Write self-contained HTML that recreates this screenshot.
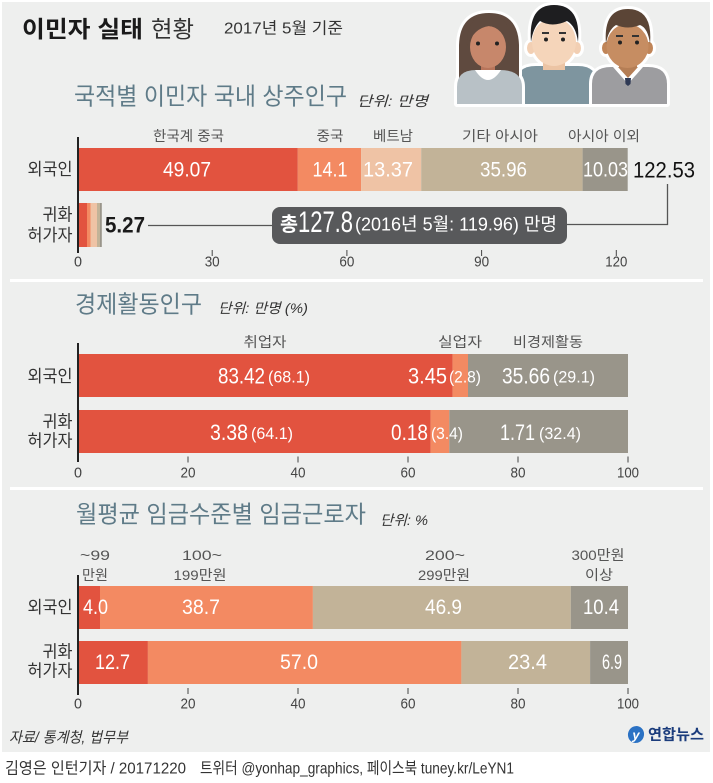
<!DOCTYPE html>
<html><head><meta charset="utf-8">
<style>
html,body{margin:0;padding:0;background:#fff;}
svg{display:block;}
text{font-family:"Liberation Sans","Noto Sans CJK KR",sans-serif;dominant-baseline:central;}
.kr{font-family:"Liberation Sans","Noto Sans CJK KR",sans-serif;}
.cat{font-size:14px;fill:#555;text-anchor:middle;}
.row{font-size:17px;fill:#333;text-anchor:end;}
.val{font-size:21px;fill:#fff;text-anchor:middle;}
.valb{font-size:22px;fill:#fff;}
.par{font-size:17px;fill:#fff;}
.tick{font-size:15px;fill:#444;text-anchor:middle;}
.sub{font-size:24px;fill:#5f7b88;}
.unit{font-size:14px;fill:#333;font-style:italic;}
</style></head>
<body>
<svg width="713" height="783" viewBox="0 0 713 783" xmlns="http://www.w3.org/2000/svg">
<defs>
<g id="cm">
  <path d="M516,104 L516,84 Q516,66 536,66 L578,66 Q597,66 597,84 L597,104 Z" fill="#7e959f"/>
  <rect x="543" y="56" width="22" height="14" fill="#ecc4a4"/>
  <ellipse cx="531" cy="48" rx="4" ry="6" fill="#f2cfb3"/>
  <ellipse cx="577" cy="48" rx="4" ry="6" fill="#f2cfb3"/>
  <ellipse cx="554" cy="42" rx="22" ry="24" fill="#f5d5ba"/>
  <path d="M531,42 Q528,5 554,5 Q581,5 578,42 Q576,26 567,21 Q552,28 540,21 Q533,28 531,42 Z" fill="#1e1e20"/>
  <line x1="542" y1="33" x2="549" y2="33" stroke="#333" stroke-width="2"/>
  <line x1="559" y1="33" x2="566" y2="33" stroke="#333" stroke-width="2"/>
  <circle cx="546" cy="39.5" r="2" fill="#222"/>
  <circle cx="563" cy="39.5" r="2" fill="#222"/>
</g>
<g id="wm">
  <path d="M459,84 L459,45 Q460,13 489,13 Q518,13 519,45 L519,84 Z" fill="#5f4a3f"/>
  <path d="M457,104 L457,87 Q457,70 476,70 L500,70 Q522,70 522,87 L522,104 Z" fill="#b8c1c6"/>
  <rect x="481" y="60" width="14" height="12" fill="#b8755b"/>
  <path d="M475,70 Q488,90 501,70 Z" fill="#fff"/>
  <ellipse cx="488" cy="47" rx="18" ry="21" fill="#c7876b"/>
  <path d="M467,46 Q466,15 489,15 Q512,15 510,46 Q504,28 489,26 Q474,28 467,46 Z" fill="#5f4a3f"/>
  <circle cx="478" cy="43.5" r="2" fill="#222"/>
  <circle cx="497" cy="43.5" r="2" fill="#222"/>
</g>
<g id="rm">
  <path d="M592,104 L592,84 Q592,67 611,67 L648,67 Q667,67 667,84 L667,104 Z" fill="#9d9da0"/>
  <rect x="619" y="57" width="18" height="12" fill="#b57e55"/>
  <path d="M613,67 L628,84 L643,67 Z" fill="#fff"/>
  <path d="M618,67 L628,78 L638,67 Z" fill="#b57e55"/>
  <path d="M625,78 L631,78 L630.5,84 L628,86 L625.5,84 Z" fill="#2f3a55"/>
  <ellipse cx="606" cy="48" rx="4" ry="6" fill="#c08558"/>
  <ellipse cx="649" cy="48" rx="4" ry="6" fill="#c08558"/>
  <ellipse cx="627.5" cy="46" rx="21" ry="22" fill="#c68d62"/>
  <path d="M606,44 Q603,9 628,9 Q653,9 650,44 Q648,28 640,25 Q628,30 616,25 Q608,30 606,44 Z" fill="#5b4536"/>
  <line x1="616" y1="36" x2="623" y2="36" stroke="#333" stroke-width="2"/>
  <line x1="632" y1="36" x2="639" y2="36" stroke="#333" stroke-width="2"/>
  <circle cx="620" cy="42.5" r="2" fill="#222"/>
  <circle cx="637" cy="42.5" r="2" fill="#222"/>
</g>
</defs>

<!-- panel -->
<rect x="2" y="2" width="708" height="750" fill="#eeefee"/>
<rect x="10" y="279" width="693" height="3" fill="#fff"/>
<rect x="10" y="487" width="693" height="3" fill="#fff"/>

<!-- header -->
<text x="22" y="29" font-size="23" font-weight="bold" fill="#1a1a1a" textLength="121" lengthAdjust="spacingAndGlyphs">이민자 실태</text>
<text x="151" y="29" font-size="23" fill="#333" textLength="43" lengthAdjust="spacingAndGlyphs">현황</text>
<text x="224" y="29" font-size="16" fill="#333" textLength="119" lengthAdjust="spacingAndGlyphs">2017년 5월 기준</text>

<!-- people -->
<use href="#cm" stroke="#fff" stroke-width="6" stroke-linejoin="round"/>
<use href="#cm"/>
<use href="#wm" stroke="#fff" stroke-width="6" stroke-linejoin="round"/>
<use href="#wm"/>
<use href="#rm" stroke="#fff" stroke-width="6" stroke-linejoin="round"/>
<use href="#rm"/>

<!-- ===== Section 1 ===== -->
<text class="sub" x="74" y="97" textLength="273" lengthAdjust="spacingAndGlyphs">국적별 이민자 국내 상주인구</text>
<text class="unit" x="357" y="101" textLength="71" lengthAdjust="spacingAndGlyphs">단위: 만명</text>

<text class="cat" x="188.5" y="136" textLength="71" lengthAdjust="spacingAndGlyphs">한국계 중국</text>
<text class="cat" x="330" y="136" textLength="27" lengthAdjust="spacingAndGlyphs">중국</text>
<text class="cat" x="393" y="136" textLength="40" lengthAdjust="spacingAndGlyphs">베트남</text>
<text class="cat" x="500" y="136" textLength="76" lengthAdjust="spacingAndGlyphs">기타 아시아</text>
<text class="cat" x="604" y="136" textLength="72" lengthAdjust="spacingAndGlyphs">아시아 이외</text>

<!-- row 1 -->
<rect x="78" y="148" width="219.8" height="43" fill="#e2533f"/>
<rect x="297.8" y="148" width="63.3" height="43" fill="#f38a62"/>
<rect x="361.1" y="148" width="60.1" height="43" fill="#efc3a5"/>
<rect x="421.2" y="148" width="161.4" height="43" fill="#c2b398"/>
<rect x="582.6" y="148" width="45.1" height="43" fill="#99958a"/>
<text class="val" x="187" y="170" textLength="48" lengthAdjust="spacingAndGlyphs">49.07</text>
<text class="val" x="330" y="170" textLength="35" lengthAdjust="spacingAndGlyphs">14.1</text>
<text class="val" x="388" y="170" textLength="50" lengthAdjust="spacingAndGlyphs">13.37</text>
<text class="val" x="503.5" y="170" textLength="47" lengthAdjust="spacingAndGlyphs">35.96</text>
<text class="val" x="605.5" y="170" textLength="45" lengthAdjust="spacingAndGlyphs">10.03</text>
<text x="633" y="170" font-size="22" fill="#111" textLength="62" lengthAdjust="spacingAndGlyphs">122.53</text>

<!-- row 2 -->
<rect x="78" y="203" width="9" height="44" fill="#e2533f"/>
<rect x="87" y="203" width="3.5" height="44" fill="#f38a62"/>
<rect x="90.5" y="203" width="6.5" height="44" fill="#efc3a5"/>
<rect x="97" y="203" width="3" height="44" fill="#c2b398"/>
<rect x="100" y="203" width="1.8" height="44" fill="#99958a"/>
<text x="105" y="225" font-size="22" font-weight="bold" fill="#1a1a1a" textLength="40" lengthAdjust="spacingAndGlyphs">5.27</text>

<polyline points="148,225.5 272,225.5" fill="none" stroke="#555" stroke-width="1.3"/>
<polyline points="567,224.5 667.5,224.5 667.5,184" fill="none" stroke="#555" stroke-width="1.3"/>
<rect x="272" y="207" width="295" height="37" rx="8" fill="#58595b"/>
<text x="280" y="225" font-size="20" font-weight="bold" fill="#fff" textLength="18" lengthAdjust="spacingAndGlyphs">총</text>
<text x="298" y="222.5" font-size="30" fill="#fff" textLength="55" lengthAdjust="spacingAndGlyphs">127.8</text>
<text x="355" y="224.5" font-size="18" fill="#fff" textLength="202" lengthAdjust="spacingAndGlyphs">(2016년 5월: 119.96) 만명</text>

<text class="row" x="72.5" y="169.5" textLength="45" lengthAdjust="spacingAndGlyphs">외국인</text>
<text class="row" x="72.5" y="215" textLength="30" lengthAdjust="spacingAndGlyphs">귀화</text>
<text class="row" x="72.5" y="235.5" textLength="45" lengthAdjust="spacingAndGlyphs">허가자</text>

<line x1="78" y1="137" x2="78" y2="253" stroke="#222" stroke-width="2"/>
<g stroke="#444" stroke-width="1">
<line x1="212.2" y1="250" x2="212.2" y2="256"/>
<line x1="346.9" y1="250" x2="346.9" y2="256"/>
<line x1="481.6" y1="250" x2="481.6" y2="256"/>
<line x1="616.3" y1="250" x2="616.3" y2="256"/>
</g>
<text class="tick" x="78" y="262" textLength="8" lengthAdjust="spacingAndGlyphs">0</text>
<text class="tick" x="212.2" y="262" textLength="15" lengthAdjust="spacingAndGlyphs">30</text>
<text class="tick" x="346.9" y="262" textLength="15" lengthAdjust="spacingAndGlyphs">60</text>
<text class="tick" x="481.6" y="262" textLength="15" lengthAdjust="spacingAndGlyphs">90</text>
<text class="tick" x="616.3" y="262" textLength="22" lengthAdjust="spacingAndGlyphs">120</text>

<!-- ===== Section 2 ===== -->
<text class="sub" x="75" y="305" textLength="127" lengthAdjust="spacingAndGlyphs">경제활동인구</text>
<text class="unit" x="218" y="308" textLength="90" lengthAdjust="spacingAndGlyphs">단위: 만명 (%)</text>

<text class="cat" x="265" y="342" textLength="43" lengthAdjust="spacingAndGlyphs">취업자</text>
<text class="cat" x="460" y="342" textLength="44" lengthAdjust="spacingAndGlyphs">실업자</text>
<text class="cat" x="548" y="342" textLength="70" lengthAdjust="spacingAndGlyphs">비경제활동</text>

<rect x="78" y="354" width="374.6" height="43" fill="#e2533f"/>
<rect x="452.6" y="354" width="15.4" height="43" fill="#f38a62"/>
<rect x="468" y="354" width="160" height="43" fill="#99958a"/>

<rect x="78" y="410" width="352.6" height="43" fill="#e2533f"/>
<rect x="430.6" y="410" width="18.7" height="43" fill="#f38a62"/>
<rect x="449.3" y="410" width="178.7" height="43" fill="#99958a"/>

<text class="valb" x="218" y="376" textLength="47" lengthAdjust="spacingAndGlyphs">83.42</text>
<text class="par" x="268" y="377" textLength="42" lengthAdjust="spacingAndGlyphs">(68.1)</text>
<text class="valb" x="408" y="376" textLength="39" lengthAdjust="spacingAndGlyphs">3.45</text>
<text class="par" x="449" y="377" textLength="32" lengthAdjust="spacingAndGlyphs">(2.8)</text>
<text class="valb" x="502" y="376" textLength="48" lengthAdjust="spacingAndGlyphs">35.66</text>
<text class="par" x="553" y="377" textLength="42" lengthAdjust="spacingAndGlyphs">(29.1)</text>

<text class="valb" x="210" y="432.5" textLength="38" lengthAdjust="spacingAndGlyphs">3.38</text>
<text class="par" x="251" y="433.5" textLength="42" lengthAdjust="spacingAndGlyphs">(64.1)</text>
<text class="valb" x="391" y="432.5" textLength="37" lengthAdjust="spacingAndGlyphs">0.18</text>
<text class="par" x="431" y="433.5" textLength="32" lengthAdjust="spacingAndGlyphs">(3.4)</text>
<text class="valb" x="500" y="432.5" textLength="35" lengthAdjust="spacingAndGlyphs">1.71</text>
<text class="par" x="539" y="433.5" textLength="42" lengthAdjust="spacingAndGlyphs">(32.4)</text>

<text class="row" x="72.5" y="376.5" textLength="45" lengthAdjust="spacingAndGlyphs">외국인</text>
<text class="row" x="72.5" y="422" textLength="30" lengthAdjust="spacingAndGlyphs">귀화</text>
<text class="row" x="72.5" y="441" textLength="45" lengthAdjust="spacingAndGlyphs">허가자</text>

<line x1="78" y1="343" x2="78" y2="462" stroke="#222" stroke-width="2"/>
<g stroke="#444" stroke-width="1">
<line x1="188" y1="456.5" x2="188" y2="462.5"/>
<line x1="298" y1="456.5" x2="298" y2="462.5"/>
<line x1="408" y1="456.5" x2="408" y2="462.5"/>
<line x1="518" y1="456.5" x2="518" y2="462.5"/>
<line x1="628" y1="456.5" x2="628" y2="462.5"/>
</g>
<text class="tick" x="78" y="473" textLength="8" lengthAdjust="spacingAndGlyphs">0</text>
<text class="tick" x="188" y="473" textLength="15" lengthAdjust="spacingAndGlyphs">20</text>
<text class="tick" x="298" y="473" textLength="15" lengthAdjust="spacingAndGlyphs">40</text>
<text class="tick" x="408" y="473" textLength="15" lengthAdjust="spacingAndGlyphs">60</text>
<text class="tick" x="518" y="473" textLength="15" lengthAdjust="spacingAndGlyphs">80</text>
<text class="tick" x="628" y="473" textLength="22" lengthAdjust="spacingAndGlyphs">100</text>

<!-- ===== Section 3 ===== -->
<text class="sub" x="76" y="515" textLength="290" lengthAdjust="spacingAndGlyphs">월평균 임금수준별 임금근로자</text>
<text class="unit" x="380" y="520" textLength="48" lengthAdjust="spacingAndGlyphs">단위: %</text>

<text class="cat" x="95" y="555" textLength="30" lengthAdjust="spacingAndGlyphs">~99</text>
<text class="cat" x="95" y="575" textLength="26" lengthAdjust="spacingAndGlyphs">만원</text>
<text class="cat" x="202" y="555" textLength="40" lengthAdjust="spacingAndGlyphs">100~</text>
<text class="cat" x="200" y="575" textLength="53" lengthAdjust="spacingAndGlyphs">199만원</text>
<text class="cat" x="445" y="555" textLength="40" lengthAdjust="spacingAndGlyphs">200~</text>
<text class="cat" x="444" y="575" textLength="52" lengthAdjust="spacingAndGlyphs">299만원</text>
<text class="cat" x="598" y="555" textLength="53" lengthAdjust="spacingAndGlyphs">300만원</text>
<text class="cat" x="599" y="575" textLength="28" lengthAdjust="spacingAndGlyphs">이상</text>

<rect x="78" y="586" width="22" height="43" fill="#e2533f"/>
<rect x="100" y="586" width="212.9" height="43" fill="#f38a62"/>
<rect x="312.9" y="586" width="257.9" height="43" fill="#c2b398"/>
<rect x="570.8" y="586" width="57.2" height="43" fill="#99958a"/>

<rect x="78" y="641" width="69.9" height="43" fill="#e2533f"/>
<rect x="147.9" y="641" width="313.5" height="43" fill="#f38a62"/>
<rect x="461.4" y="641" width="128.7" height="43" fill="#c2b398"/>
<rect x="590.1" y="641" width="37.9" height="43" fill="#99958a"/>

<text class="val" x="95.5" y="607.5" font-size="22" textLength="25" lengthAdjust="spacingAndGlyphs">4.0</text>
<text class="val" x="201" y="607.5" font-size="22" textLength="38" lengthAdjust="spacingAndGlyphs">38.7</text>
<text class="val" x="443.5" y="607.5" font-size="22" textLength="37" lengthAdjust="spacingAndGlyphs">46.9</text>
<text class="val" x="601" y="607.5" font-size="22" textLength="36" lengthAdjust="spacingAndGlyphs">10.4</text>

<text class="val" x="112.5" y="662.5" font-size="22" textLength="35" lengthAdjust="spacingAndGlyphs">12.7</text>
<text class="val" x="299" y="662.5" font-size="22" textLength="38" lengthAdjust="spacingAndGlyphs">57.0</text>
<text class="val" x="527.5" y="662.5" font-size="22" textLength="39" lengthAdjust="spacingAndGlyphs">23.4</text>
<text class="val" x="612" y="662.5" font-size="22" textLength="20" lengthAdjust="spacingAndGlyphs">6.9</text>

<text class="row" x="72.5" y="607.5" textLength="45" lengthAdjust="spacingAndGlyphs">외국인</text>
<text class="row" x="72.5" y="652" textLength="30" lengthAdjust="spacingAndGlyphs">귀화</text>
<text class="row" x="72.5" y="671" textLength="45" lengthAdjust="spacingAndGlyphs">허가자</text>

<line x1="78" y1="575" x2="78" y2="695" stroke="#222" stroke-width="2"/>
<g stroke="#444" stroke-width="1">
<line x1="188" y1="688" x2="188" y2="694"/>
<line x1="298" y1="688" x2="298" y2="694"/>
<line x1="408" y1="688" x2="408" y2="694"/>
<line x1="518" y1="688" x2="518" y2="694"/>
<line x1="628" y1="688" x2="628" y2="694"/>
</g>
<text class="tick" x="78" y="704" textLength="8" lengthAdjust="spacingAndGlyphs">0</text>
<text class="tick" x="188" y="704" textLength="15" lengthAdjust="spacingAndGlyphs">20</text>
<text class="tick" x="298" y="704" textLength="15" lengthAdjust="spacingAndGlyphs">40</text>
<text class="tick" x="408" y="704" textLength="15" lengthAdjust="spacingAndGlyphs">60</text>
<text class="tick" x="518" y="704" textLength="15" lengthAdjust="spacingAndGlyphs">80</text>
<text class="tick" x="628" y="704" textLength="22" lengthAdjust="spacingAndGlyphs">100</text>

<!-- footer -->
<text x="9" y="738" font-size="15" font-style="italic" fill="#333" textLength="119" lengthAdjust="spacingAndGlyphs">자료/ 통계청, 법무부</text>
<ellipse cx="636" cy="734.5" rx="8" ry="8.5" fill="#2b72c4" transform="rotate(20 636 734.5)"/>
<text x="636" y="735" font-size="13" font-style="italic" font-weight="bold" fill="#fff" text-anchor="middle">y</text>
<text x="648" y="735" font-size="15" font-weight="bold" fill="#1b3c7c" textLength="56" lengthAdjust="spacingAndGlyphs">연합뉴스</text>

<text x="5" y="769" font-size="16" fill="#333" textLength="181" lengthAdjust="spacingAndGlyphs">김영은 인턴기자 / 20171220</text>
<text x="200" y="769" font-size="16" fill="#333" textLength="314" lengthAdjust="spacingAndGlyphs">트위터 @yonhap_graphics, 페이스북 tuney.kr/LeYN1</text>
</svg>
</body></html>
